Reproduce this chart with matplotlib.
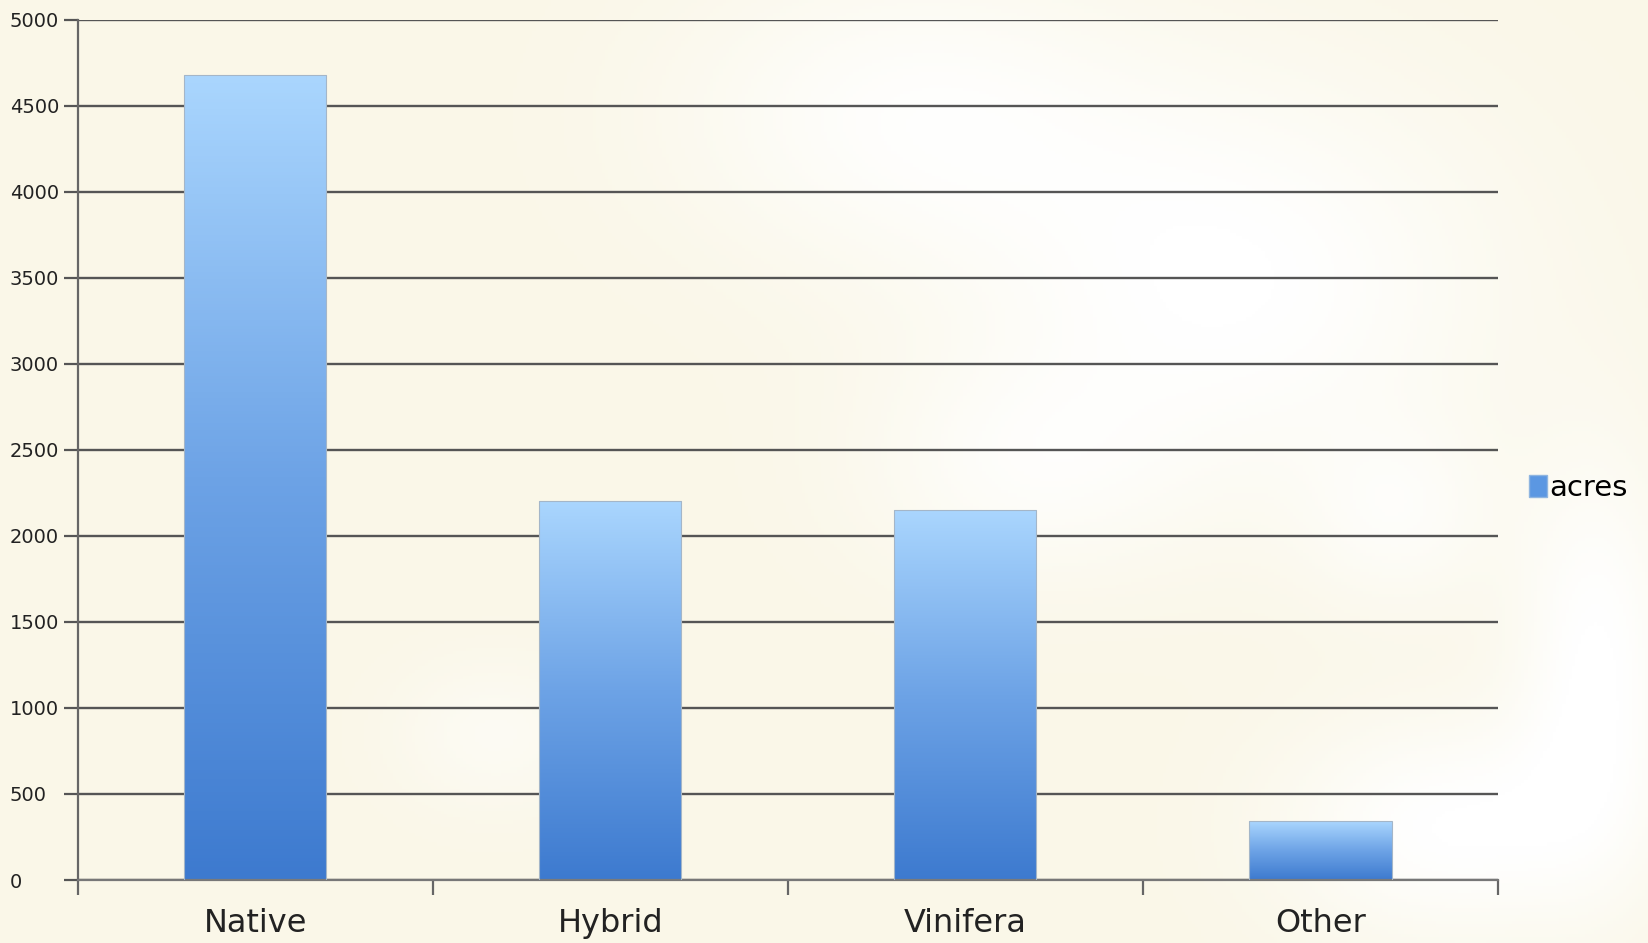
import numpy as np
import matplotlib.pyplot as plt
from matplotlib.patches import Patch
from matplotlib.colors import LinearSegmentedColormap

# --- Data ---
categories = ["Native", "Hybrid", "Vinifera", "Other"]
acres = [4680, 2205, 2150, 340]
y_ticks = [0, 500, 1000, 1500, 2000, 2500, 3000, 3500, 4000, 4500, 5000]

fig = plt.figure(figsize=(16.48, 9.43), dpi=100)
fig.patch.set_facecolor("#FAF7E8")

# soft cream / white backdrop
bg = fig.add_axes([0, 0, 1, 1], zorder=-10)
yy, xx = np.mgrid[0:1:300j, 0:1:520j]
glow = np.zeros_like(xx)
for cx, cy, sx, sy, a in [(0.55, 0.12, 0.14, 0.16, 0.8), (0.75, 0.30, 0.16, 0.22, 1.0),
                          (0.62, 0.50, 0.10, 0.12, 0.6), (0.88, 0.88, 0.10, 0.12, 1.0),
                          (0.97, 0.70, 0.05, 0.22, 1.0), (0.30, 0.78, 0.06, 0.08, 0.5),
                          (0.85, 0.55, 0.06, 0.10, 0.6)]:
    glow += a * np.exp(-(((xx - cx) / sx) ** 2 + ((yy - cy) / sy) ** 2))
glow = np.clip(glow, 0, 1)
cream = np.array([250, 247, 232]) / 255
img = cream[None, None, :] * (1 - glow[..., None]) + glow[..., None]
bg.imshow(img, extent=[0, 1, 0, 1], aspect="auto", origin="upper")
bg.axis("off")

ax = fig.add_axes([0.0471, 0.0668, 0.909 - 0.0471, 0.9793 - 0.0668])
ax.set_facecolor("none")

x = np.arange(len(categories))
bars = ax.bar(x, acres, width=0.4, color="none", edgecolor="#A4B6C8", linewidth=0.8, zorder=3)

cmap = LinearSegmentedColormap.from_list("blu", ["#3D7ACF", "#6DA3E6", "#AAD6FE"])
grad = np.linspace(0, 1, 256).reshape(-1, 1)
for b in bars:
    x0, w, h = b.get_x(), b.get_width(), b.get_height()
    im = ax.imshow(grad, cmap=cmap, origin="lower", aspect="auto",
                   extent=[x0, x0 + w, 0, h], zorder=2)
    im.set_clip_path(b)

ax.set_xlim(-0.5, 3.5)
ax.set_ylim(0, 5000)
ax.set_yticks(y_ticks)
ax.set_yticklabels([str(v) for v in y_ticks], fontsize=14, color="#222222", ha="left")
ax.set_xticks(x)
ax.set_xticklabels(categories, fontsize=23, color="#222222")
ax.set_xticks(np.arange(-0.5, 4.0, 1.0), minor=True)
ax.tick_params(axis="x", which="major", length=0, pad=20)
ax.tick_params(axis="x", which="minor", length=11, width=1.6, color="#666666", direction="out")
ax.tick_params(axis="y", length=10, width=1.6, color="#555555", pad=39)

ax.yaxis.grid(True, color="#555555", linewidth=1.7, zorder=1)
ax.set_axisbelow(True)
for s in ["top", "right"]:
    ax.spines[s].set_visible(False)
ax.spines["left"].set_color("#666666")
ax.spines["left"].set_linewidth(1.6)
ax.spines["bottom"].set_color("#777777")
ax.spines["bottom"].set_linewidth(1.6)

fig.legend(handles=[Patch(facecolor="#5B97E2", edgecolor="#8FB5E0", label="acres")],
           loc="center left", bbox_to_anchor=(0.912, 0.482), frameon=False,
           fontsize=21, handlelength=0.6, handleheight=0.8, handletextpad=0.1)

fig.savefig("out.png", dpi=100, facecolor=fig.get_facecolor())
